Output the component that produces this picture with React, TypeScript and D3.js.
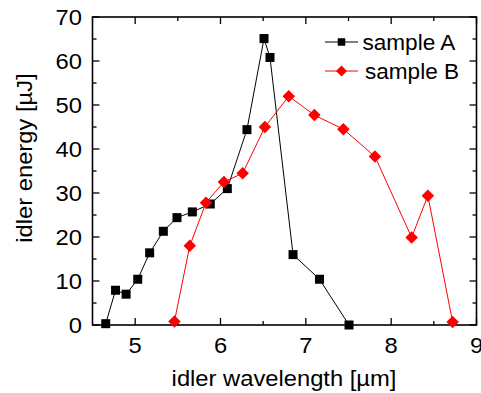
import React from "react";
import * as d3 from "d3";

const sampleAX = [4.655, 4.77, 4.894, 5.03, 5.17, 5.33, 5.49, 5.67, 5.88, 6.08, 6.31, 6.51, 6.58, 6.85, 7.16, 7.506];
const sampleAY = [0.3, 7.9, 7.0, 10.4, 16.4, 21.3, 24.4, 25.7, 27.5, 31.0, 44.4, 65.1, 60.8, 16.0, 10.4, 0.0];
const sampleBX = [5.46, 5.64, 5.83, 6.04, 6.26, 6.52, 6.8, 7.1, 7.44, 7.81, 8.24, 8.43, 8.72];
const sampleBY = [0.8, 18.0, 27.8, 32.5, 34.5, 45.0, 52.0, 47.7, 44.5, 38.3, 19.9, 29.4, 0.7];
const xTicks = [5, 6, 7, 8, 9];
const xMinor = [5.5, 6.5, 7.5, 8.5];
const yTicks = [0, 10, 20, 30, 40, 50, 60, 70];
const yMinor = [5, 15, 25, 35, 45, 55, 65];
const seriesNames = ["sample A", "sample B"];
const xTitle = "idler wavelength [µm]";
const yTitle = "idler energy [µJ]";

const W = 481, H = 393;
const L = 92.5, R = 476.5, T = 17, B = 325;
const FS = 22;
const SX = 1.08;
const font = "'Liberation Sans', Arial, sans-serif";

function Txt({ x, y, anchor, rotate, children, sx = SX, fs = FS }: any) {
  return (
    <text
      transform={`translate(${x},${y})${rotate ? ` rotate(${rotate})` : ""} scale(${sx},1)`}
      textAnchor={anchor}
      fontFamily={font}
      fontSize={fs}
      fill="#000"
    >
      {children}
    </text>
  );
}

export default function App() {
  const x = d3.scaleLinear().domain([4.5, 9]).range([L, R]);
  const y = d3.scaleLinear().domain([0, 70]).range([B, T]);
  const dataA = sampleAX.map((v, i) => [x(v), y(sampleAY[i])] as [number, number]);
  const dataB = sampleBX.map((v, i) => [x(v), y(sampleBY[i])] as [number, number]);
  const path = d3.line();
  const sq = (cx: number, cy: number, s: number, k: any) => (
    <rect key={k} x={cx - s / 2} y={cy - s / 2} width={s} height={s} fill="#000" />
  );
  const dia = (cx: number, cy: number, s: number, k: any) => (
    <path key={k} d={`M${cx},${cy - s / 2}L${cx + s / 2},${cy}L${cx},${cy + s / 2}L${cx - s / 2},${cy}Z`} fill="#ff0000" />
  );
  const maj = 7, mnr = 4;
  return (
    <svg width={W} height={H} style={{ position: "absolute", left: 0, top: 0, background: "#fff" }}>
      <g stroke="#000" strokeWidth={1.3}>
        {xTicks.map((t) => (
          <g key={"xt" + t}>
            <line x1={x(t)} x2={x(t)} y1={B} y2={B - maj} />
            <line x1={x(t)} x2={x(t)} y1={T} y2={T + maj} />
          </g>
        ))}
        {xMinor.map((t) => (
          <g key={"xm" + t}>
            <line x1={x(t)} x2={x(t)} y1={B} y2={B - mnr} />
            <line x1={x(t)} x2={x(t)} y1={T} y2={T + mnr} />
          </g>
        ))}
        {yTicks.map((t) => (
          <g key={"yt" + t}>
            <line x1={L} x2={L + maj} y1={y(t)} y2={y(t)} />
            <line x1={R} x2={R - maj} y1={y(t)} y2={y(t)} />
          </g>
        ))}
        {yMinor.map((t) => (
          <g key={"ym" + t}>
            <line x1={L} x2={L + mnr} y1={y(t)} y2={y(t)} />
            <line x1={R} x2={R - mnr} y1={y(t)} y2={y(t)} />
          </g>
        ))}
      </g>
      <rect x={L} y={T} width={R - L} height={B - T} fill="none" stroke="#000" strokeWidth={1.6} />
      <path d={path(dataA) || ""} fill="none" stroke="#000" strokeWidth={1} />
      <path d={path(dataB) || ""} fill="none" stroke="#ff0000" strokeWidth={1} />
      {dataA.map((p, i) => sq(p[0], p[1], 9, "a" + i))}
      {dataB.map((p, i) => dia(p[0], p[1], 12.5, "b" + i))}
      {xTicks.map((t) => (
        <Txt key={"xl" + t} x={x(t)} y={353} anchor="middle">{String(t)}</Txt>
      ))}
      {yTicks.map((t) => (
        <Txt key={"yl" + t} x={82} y={y(t) + 8} anchor="end">{String(t)}</Txt>
      ))}
      <Txt x={(L + R) / 2 - 0.5} y={386} anchor="middle" sx={1.08}>{xTitle}</Txt>
      <Txt x={32} y={158} anchor="middle" rotate={-90} sx={1.08}>{yTitle}</Txt>
      <line x1={325} x2={358} y1={42} y2={42} stroke="#000" strokeWidth={1} />
      {sq(341.5, 42, 7.5, "la")}
      <Txt x={362.5} y={49.5} anchor="start" sx={1.05} fs={21.5}>{seriesNames[0]}</Txt>
      <line x1={325} x2={358} y1={71} y2={71} stroke="#ff0000" strokeWidth={1} />
      {dia(341.5, 71, 11, "lb")}
      <Txt x={365} y={78.5} anchor="start" sx={1.05} fs={21.5}>{seriesNames[1]}</Txt>
    </svg>
  );
}
